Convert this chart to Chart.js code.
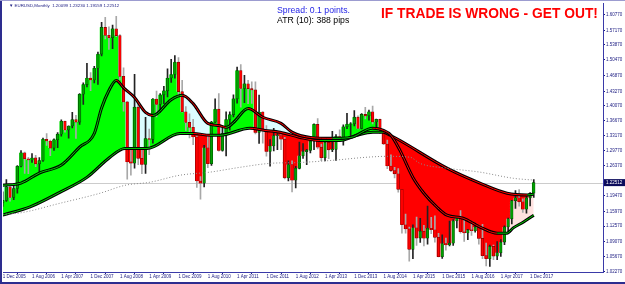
<!DOCTYPE html>
<html lang="en">
<head>
<meta charset="UTF-8">
<title>EURUSD Monthly</title>
<script src="https://cdn.jsdelivr.net/npm/chart.js"></script>
<style>
  html, body { margin: 0; padding: 0; background: #fff; }
  #wrap { position: relative; width: 625px; height: 284px; overflow: hidden; font-family: "Liberation Sans", Arial, sans-serif; }
  #wrap canvas { position: absolute; left: 0; top: 0; }
  .txt { position: absolute; white-space: nowrap; }
  #head { left: 9px; top: 3px; font-size: 4.4px; line-height: 6px; color: #1a1a80; }
  #spread { left: 277px; top: 5px; font-size: 8.7px; line-height: 10px; color: #1e1ee6; }
  #atr { left: 277px; top: 14.5px; font-size: 8.7px; line-height: 10px; color: #000; }
  #warn { left: 381px; top: 5.5px; font-size: 13.8px; line-height: 16px; font-weight: bold; color: #f00; }
  .edge { position: absolute; background: #2d2d8f; }
</style>
</head>
<body>
<div id="wrap">
  <canvas id="chart" width="625" height="284"></canvas>
  <div class="txt" id="head">&#9660; EURUSD,Monthly&nbsp; 1.20099 1.23230 1.19159 1.22512</div>
  <div class="txt" id="spread">Spread: 0.1 points.</div>
  <div class="txt" id="atr">ATR (10): 388 pips</div>
  <div class="txt" id="warn">IF TRADE IS WRONG - GET OUT!</div>
  <div class="edge" style="left:0;top:0;width:2px;height:284px"></div>
  <div class="edge" style="left:0;top:282px;width:625px;height:2px"></div>
  <div class="edge" style="left:0;top:0;width:625px;height:1px;background:#9c9cd0"></div>
</div>

<script>
// monthly candles, Dec 2005 .. Jan 2018 (x = month index)
var opens = [1.1790,
  1.1845,1.2158,1.1914,1.2118,1.2624,1.2930,1.2794,1.2767,1.2814,1.2679,1.2755,1.3240,
  1.3199,1.3038,1.3229,1.3355,1.3649,1.3451,1.3540,1.3685,1.3631,1.4265,1.4485,1.4634,
  1.4589,1.4857,1.5178,1.5788,1.5606,1.5553,1.5757,1.5601,1.4673,1.4090,1.2722,1.2692,
  1.3971,1.2804,1.2665,1.3254,1.3238,1.4155,1.4033,1.4250,1.4342,1.4634,1.4715,1.4996,
  1.4324,1.3865,1.3622,1.3511,1.3290,1.2288,1.2236,1.3046,1.2680,1.3631,1.3925,1.2984,
  1.3370,1.3690,1.3800,1.4160,1.4806,1.4397,1.4502,1.4394,1.4364,1.3393,1.3858,1.3438,
  1.2962,1.3085,1.3321,1.3325,1.3241,1.2361,1.2664,1.2306,1.2577,1.2862,1.2958,1.2987,
  1.3194,1.3578,1.3058,1.2818,1.3168,1.2998,1.3010,1.3301,1.3222,1.3524,1.3583,1.3590,
  1.3743,1.3485,1.3806,1.3773,1.3866,1.3633,1.3692,1.3390,1.3131,1.2630,1.2525,1.2451,
  1.2098,1.1291,1.1196,1.0731,1.1222,1.0987,1.1146,1.0985,1.1211,1.1177,1.1005,1.0564,
  1.0862,1.0831,1.0872,1.1380,1.1452,1.1131,1.1105,1.1174,1.1155,1.1238,1.0980,1.0587,
  1.0517,1.0797,1.0577,1.0652,1.0896,1.1242,1.1426,1.1840,1.1907,1.1813,1.1646,1.1904,
  1.20099];
var highs = [1.2040,
  1.2323,1.2170,1.2208,1.2640,1.2979,1.2948,1.2826,1.2914,1.2874,1.2823,1.3264,1.3366,
  1.3218,1.3248,1.3392,1.3682,1.3655,1.3547,1.3852,1.3785,1.4280,1.4527,1.4967,1.4758,
  1.4903,1.5225,1.5904,1.6019,1.5800,1.5841,1.6038,1.5626,1.4867,1.4100,1.3004,1.4719,
  1.4060,1.3055,1.3738,1.3472,1.4167,1.4339,1.4278,1.4446,1.4844,1.5061,1.5144,1.5102,
  1.4580,1.3983,1.3818,1.3691,1.3312,1.2390,1.3100,1.3333,1.3648,1.4158,1.4282,1.3500,
  1.3861,1.3862,1.4249,1.4882,1.4940,1.4698,1.4579,1.4548,1.4549,1.4248,1.3872,1.3550,
  1.3233,1.3487,1.3386,1.3340,1.3283,1.2747,1.2746,1.2623,1.3172,1.3140,1.3011,1.3308,
  1.3588,1.3711,1.3131,1.3243,1.3243,1.3417,1.3346,1.3452,1.3568,1.3832,1.3620,1.3893,
  1.3775,1.3825,1.3967,1.3905,1.3993,1.3700,1.3700,1.3444,1.3221,1.2887,1.2600,1.2570,
  1.2100,1.1534,1.1240,1.1290,1.1466,1.1436,1.1278,1.1714,1.1460,1.1495,1.1095,1.1060,
  1.0985,1.1376,1.1411,1.1464,1.1616,1.1428,1.1186,1.1366,1.1327,1.1278,1.1300,1.0875,
  1.0829,1.0829,1.0906,1.0952,1.1268,1.1446,1.1846,1.2070,1.2092,1.1880,1.1961,1.2023,
  1.23230];
var lows = [1.1710,
  1.1822,1.1827,1.1860,1.2011,1.2606,1.2458,1.2456,1.2709,1.2616,1.2482,1.2733,1.3099,
  1.2866,1.2982,1.3047,1.3312,1.3400,1.3266,1.3500,1.3260,1.3575,1.4030,1.4434,1.4345,
  1.4525,1.4489,1.5139,1.5525,1.5285,1.5305,1.5574,1.4588,1.3881,1.2330,1.2423,1.2582,
  1.2661,1.2456,1.2458,1.2885,1.3151,1.3746,1.3854,1.4047,1.4204,1.4536,1.4632,1.4218,
  1.3855,1.3443,1.3267,1.3115,1.2143,1.1876,1.2151,1.2589,1.2644,1.3617,1.2968,1.2969,
  1.2861,1.3444,1.3747,1.4061,1.3968,1.4072,1.4051,1.4055,1.3362,1.3145,1.3147,1.2856,
  1.2624,1.2974,1.3003,1.3001,1.2334,1.2288,1.2042,1.2131,1.2564,1.2802,1.2662,1.2926,
  1.3000,1.3020,1.2750,1.2745,1.2796,1.2955,1.2755,1.3221,1.3106,1.3480,1.3295,1.3545,
  1.3477,1.3476,1.3705,1.3673,1.3586,1.3503,1.3367,1.3116,1.2571,1.2500,1.2358,1.2035,
  1.1098,1.1098,1.0462,1.0521,1.0819,1.0888,1.0808,1.0847,1.1087,1.0896,1.0557,1.0524,
  1.0710,1.0810,1.0822,1.1217,1.1098,1.0912,1.0952,1.1046,1.1122,1.0851,1.0518,1.0352,
  1.0340,1.0494,1.0494,1.0570,1.0840,1.1110,1.1312,1.1662,1.1717,1.1574,1.1554,1.1718,
  1.19159];
var closes = [1.1845,
  1.2158,1.1914,1.2118,1.2624,1.2930,1.2794,1.2767,1.2814,1.2679,1.2755,1.3240,1.3199,
  1.3038,1.3229,1.3355,1.3649,1.3451,1.3540,1.3685,1.3631,1.4265,1.4485,1.4634,1.4589,
  1.4857,1.5178,1.5788,1.5606,1.5553,1.5757,1.5601,1.4673,1.4090,1.2722,1.2692,1.3971,
  1.2804,1.2665,1.3254,1.3238,1.4155,1.4033,1.4250,1.4342,1.4634,1.4715,1.4996,1.4324,
  1.3865,1.3622,1.3511,1.3290,1.2288,1.2236,1.3046,1.2680,1.3631,1.3925,1.2984,1.3370,
  1.3690,1.3800,1.4160,1.4806,1.4397,1.4502,1.4394,1.4364,1.3393,1.3858,1.3438,1.2962,
  1.3085,1.3321,1.3325,1.3241,1.2361,1.2664,1.2306,1.2577,1.2862,1.2958,1.2987,1.3194,
  1.3578,1.3058,1.2818,1.3168,1.2998,1.3010,1.3301,1.3222,1.3524,1.3583,1.3590,1.3743,
  1.3485,1.3806,1.3773,1.3866,1.3633,1.3692,1.3390,1.3131,1.2630,1.2525,1.2451,1.2098,
  1.1291,1.1196,1.0731,1.1222,1.0987,1.1146,1.0985,1.1211,1.1177,1.1005,1.0564,1.0862,
  1.0831,1.0872,1.1380,1.1452,1.1131,1.1105,1.1174,1.1155,1.1238,1.0980,1.0587,1.0517,
  1.0797,1.0577,1.0652,1.0896,1.1242,1.1426,1.1840,1.1907,1.1813,1.1646,1.1904,1.2005,
  1.22512];

// moving averages: [month index, price]
var fastMA = [[0,1.219],[5,1.224],[10,1.247],[16,1.265],[21,1.306],[25,1.337],[27,1.395],
  [29,1.435],[31,1.458],[33,1.441],[36,1.419],[39,1.385],[41,1.378],[46,1.414],[49,1.424],
  [52,1.405],[56,1.360],[59,1.355],[61,1.351],[63,1.362],[67,1.394],[71,1.374],[76,1.360],
  [79,1.340],[84,1.328],[90,1.326],[95,1.328],[101,1.349],[104,1.344],[106,1.333],
  [108.5,1.298],[112,1.237],[115,1.201],[118.6,1.169],[121.3,1.151],[125.7,1.144],
  [130.3,1.124],[135,1.110],[137.7,1.110],[139.4,1.122],[142.1,1.135],[145,1.151]];
var slowMA = [[0,1.151],[7.5,1.170],[15.6,1.203],[23,1.237],[29.3,1.283],[33.4,1.303],
  [39.4,1.303],[48.4,1.337],[52,1.337],[56.6,1.333],[59.3,1.333],[67.5,1.349],[71.6,1.344],
  [75.7,1.340],[81.2,1.328],[86.6,1.321],[92.1,1.321],[96.7,1.333],[101.1,1.340],
  [103.9,1.340],[105.8,1.333],[108.5,1.321],[121.3,1.258],[130.3,1.224],[137.7,1.201],
  [143.2,1.197],[145,1.199]];
var longMA = [[0,1.153],[4.7,1.156],[15.6,1.178],[26.6,1.201],[33.4,1.219],[40.2,1.226],
  [48.4,1.242],[56.6,1.249],[64.8,1.260],[73,1.269],[81.2,1.271],[90.2,1.276],[99.5,1.283],
  [104.9,1.285],[111.2,1.283],[113.9,1.269],[121.3,1.258],[130.3,1.249],[139.4,1.235],
  [144.8,1.231]];

var xTickIdx = [0,8,16,24,32,40,48,56,64,72,80,88,96,104,112,120,128,136,144];
var xTickLabels = ['1 Dec 2005','1 Aug 2006','1 Apr 2007','1 Dec 2007','1 Aug 2008',
  '1 Apr 2009','1 Dec 2009','1 Aug 2010','1 Apr 2011','1 Dec 2011','1 Aug 2012',
  '1 Apr 2013','1 Dec 2013','1 Aug 2014','1 Apr 2015','1 Dec 2015','1 Aug 2016',
  '1 Apr 2017','1 Dec 2017'];
var yTickLabels = ['1.60770','1.57170','1.53870','1.50470','1.46870','1.43270','1.40070',
  '1.36670','1.33170','1.29770','1.26370','1.19470','1.15970','1.12570','1.09070',
  '1.05670','1.02270'];
var lastPrice = 1.22512;

var navy = '#1a1a80';
var tickFont = { size: 4.5, family: 'Liberation Sans' };

function pts(arr) { return arr.map(function (p) { return { x: p[0], y: p[1] }; }); }
function slopeColor(c) { return c.p1.parsed.y >= c.p0.parsed.y ? '#00d000' : '#ff0000'; }

var priceMarks = {
    id: 'priceMarks',
    beforeDatasetsDraw: function (chart) {
        var ctx = chart.ctx, a = chart.chartArea;
        var py = Math.round(chart.scales.y.getPixelForValue(lastPrice)) + 0.5;
        ctx.save();
        ctx.strokeStyle = '#cccccc';
        ctx.lineWidth = 1;
        ctx.beginPath(); ctx.moveTo(a.left, py); ctx.lineTo(a.right, py); ctx.stroke();
        ctx.restore();
    },
    afterDraw: function (chart) {
        var ctx = chart.ctx, a = chart.chartArea;
        var py = chart.scales.y.getPixelForValue(lastPrice);
        ctx.save();
        ctx.fillStyle = '#0c0c5c';
        ctx.fillRect(a.right + 1, py - 3.5, 22, 7);
        ctx.fillStyle = '#fff';
        ctx.font = '4.5px "Liberation Sans"';
        ctx.textBaseline = 'middle';
        ctx.fillText(lastPrice.toFixed(5), a.right + 3, py);
        ctx.restore();
    }
};

var line = { type: 'line', pointRadius: 0, cubicInterpolationMode: 'monotone' };

var ctx = document.getElementById('chart').getContext('2d');
var chart = new Chart(ctx, {
    type: 'bar',
    data: {
        datasets: [
            // 0: price fill against slow line
            Object.assign({}, line, {
                data: closes.map(function (c, i) { return { x: i, y: c }; }),
                stepped: 'middle', borderWidth: 0,
                fill: { target: 3, above: '#00ff00', below: '#ff0000' }, order: 8
            }),
            // 1: band between fast and slow lines
            Object.assign({}, line, {
                data: pts(fastMA), borderWidth: 0,
                fill: { target: 3, above: '#dcfcff', below: '#ffe2e0' }, order: 9
            }),
            // 2: long dotted average
            Object.assign({}, line, {
                data: pts(longMA), borderColor: '#8a8a8a', borderWidth: 1,
                borderDash: [1, 2], fill: false, order: 0
            }),
            // 3/4: slow line
            Object.assign({}, line, { data: pts(slowMA), borderColor: '#000', borderWidth: 3, fill: false, order: 4 }),
            Object.assign({}, line, { data: pts(slowMA), borderWidth: 1, fill: false, order: 3,
                segment: { borderColor: slopeColor } }),
            // 5/6: fast line
            Object.assign({}, line, { data: pts(fastMA), borderColor: '#000', borderWidth: 3, fill: false, order: 2 }),
            Object.assign({}, line, { data: pts(fastMA), borderWidth: 1, fill: false, order: 1,
                segment: { borderColor: slopeColor } }),
            // 7: wicks
            {
                data: lows.map(function (l, i) { return { x: i, y: [l, highs[i]] }; }),
                backgroundColor: function (c) { return closes[c.dataIndex] >= opens[c.dataIndex] ? '#222' : '#a8a8a8'; },
                barThickness: 1, grouped: false, order: 6
            },
            // 8: bodies
            {
                data: opens.map(function (o, i) { return { x: i, y: [o, closes[i]] }; }),
                backgroundColor: function (c) { return closes[c.dataIndex] >= opens[c.dataIndex] ? '#00a000' : '#ff0000'; },
                borderColor: function (c) { return closes[c.dataIndex] >= opens[c.dataIndex] ? '#004800' : '#7a0000'; },
                borderWidth: 0.6, borderSkipped: false,
                barThickness: 2.6, grouped: false, order: 5
            }
        ]
    },
    options: {
        animation: false,
        responsive: false,
        layout: { padding: { left: 3, top: 3, right: 0, bottom: 0 } },
        plugins: { legend: { display: false }, tooltip: { enabled: false } },
        scales: {
            x: {
                type: 'linear', min: 0.08, max: 163.9, offset: false,
                afterFit: function (s) { s.height = 12; },
                afterBuildTicks: function (s) { s.ticks = xTickIdx.map(function (v) { return { value: v }; }); },
                ticks: {
                    autoSkip: false, maxRotation: 0, align: 'start', padding: 0.5,
                    font: tickFont, color: navy,
                    callback: function (v, k) { return xTickLabels[k]; }
                },
                grid: { drawOnChartArea: false, tickLength: 2, color: navy },
                border: { color: '#3a3aa8', width: 1 }
            },
            y: {
                type: 'linear', position: 'right', min: 1.0215, max: 1.6327,
                afterFit: function (s) { s.width = 22; },
                afterBuildTicks: function (s) { s.ticks = yTickLabels.map(function (t) { return { value: parseFloat(t) }; }); },
                ticks: {
                    autoSkip: false, padding: 1, font: tickFont, color: navy,
                    callback: function (v, k) { return yTickLabels[k]; }
                },
                grid: { drawOnChartArea: false, tickLength: 2, color: navy },
                border: { color: '#3a3aa8', width: 1 }
            }
        }
    },
    plugins: [priceMarks]
});
</script>
</body>
</html>
